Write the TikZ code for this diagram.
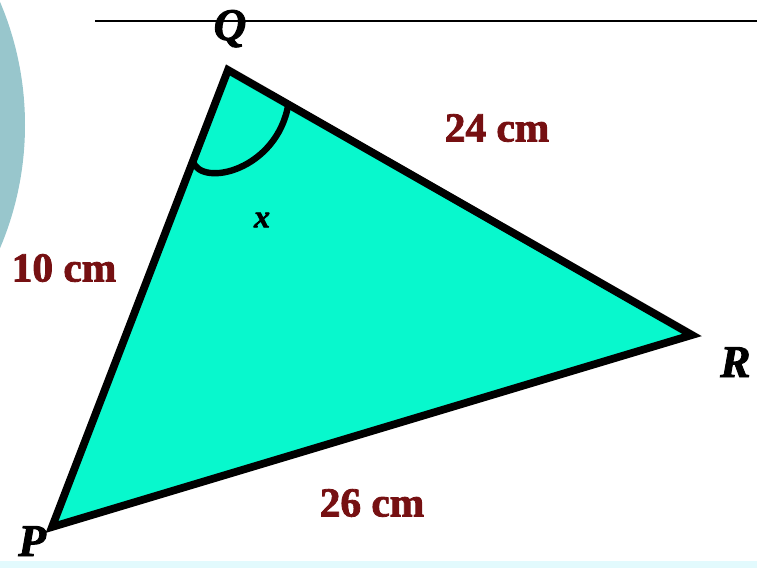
\documentclass[tikz,border=0pt]{standalone}
\usepackage{fontspec}
\setmainfont{Liberation Serif}
\newfontfamily\heavy{Liberation Serif}[BoldFeatures={FakeBold=2}, BoldItalicFeatures={FakeBold=2}]
\usetikzlibrary{calc}

\definecolor{triFill}{RGB}{8,248,205}
\definecolor{sideRed}{RGB}{118,16,18}
\definecolor{discGray}{RGB}{152,198,204}
\definecolor{stripCyan}{RGB}{226,250,253}

\tikzset{
  side/.style={text=sideRed, font=\heavy\bfseries\fontsize{31}{31}\selectfont},
  vertex/.style={font=\heavy\bfseries\itshape\fontsize{34}{34}\selectfont, inner sep=0pt}
}

\begin{document}
\begin{tikzpicture}[x=0.75pt,y=-0.75pt]
        \useasboundingbox (0,0) rectangle (757,568);

        % Background pieces
        \fill[discGray] (-290,125) circle (315);
        \fill[stripCyan] (0,561) rectangle (757,568);
        \draw[line width=1.6pt] (95,21) -- (757,21);

        % Draw the triangle
        \coordinate (Q) at (228,70);
        \coordinate (R) at (692,335);
        \coordinate (P) at (52,527);
        \filldraw[fill=triFill, line width=5.8pt] (Q) -- (R) -- (P) -- cycle;

        % Draw angle x
        \coordinate (xP) at ($(Q)!0.2!(P)$);
        \coordinate (xR) at ($(Q)!0.13!(R)$);
        \draw[line width=4.8pt] (xP) .. controls (202,188) and (277,170) .. (xR);
        \node[font=\heavy\bfseries\itshape\fontsize{24}{24}\selectfont] (xlab) at (262,220) {x};

        % Vertex labels
        \node[vertex, anchor=base] (Qlab) at (230,40) {Q};
        \node[vertex, anchor=base west] (Rlab) at (720,377) {R};
        \node[vertex, anchor=base west] (Plab) at (18,556) {P};

        % Side lengths
        \node[side] (QR) at (497,128) {24 cm};
        \node[side] (QP) at (64,268) {10 cm};
        \node[side] (PR) at (372,503) {26 cm};
    \end{tikzpicture}
\end{document}
